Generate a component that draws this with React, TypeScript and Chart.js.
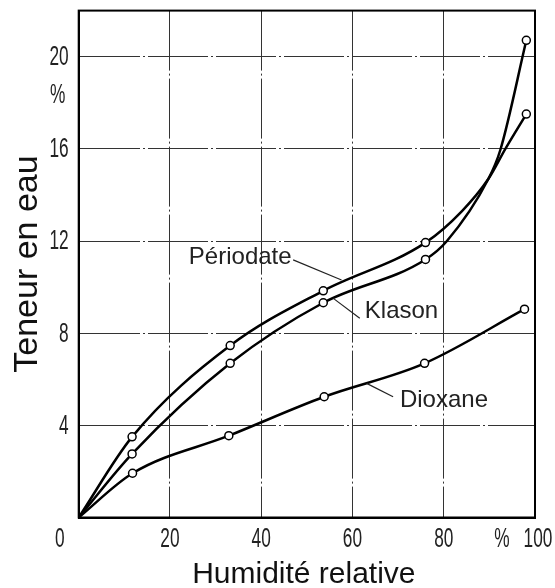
import React, { useEffect, useRef } from 'react';
import { Chart, registerables } from 'chart.js';

Chart.register(...registerables);

// Axis ticks
const xTickValues = [0, 20, 40, 60, 80, 100];
const yTickValues = [4, 8, 12, 16, 20];
const xMax = 100;
const yMax = 22;

// Series (x = relative humidity %, y = water content %)
// marked = true where the original plot shows a circle marker
const periodateX = [0, 11.7, 33.2, 53.6, 76.0, 84.0, 89.8, 93.5, 98.1];
const periodateY = [0, 3.5, 7.46, 9.84, 11.93, 13.3, 14.7, 16.0, 17.51];
const periodateMarked = [false, true, true, true, true, false, false, false, true];

const klasonX = [0, 11.7, 33.2, 53.6, 76.0, 80.7, 89.8, 92.4, 98.1];
const klasonY = [0, 2.76, 6.69, 9.32, 11.2, 12.0, 14.7, 15.95, 20.71];
const klasonMarked = [false, true, true, true, true, false, false, false, true];

const dioxaneX = [0, 11.8, 32.9, 53.8, 75.8, 97.7];
const dioxaneY = [0, 1.92, 3.55, 5.24, 6.69, 9.04];
const dioxaneMarked = [false, true, true, true, true, true];

// Curve labels (data coordinates): text anchor, leader start, leader end
const labelTexts = ['Périodate', 'Klason', 'Dioxane'];
const labelAnchorX = [35.4, 62.7, 70.4];
const labelAnchorY = [11.3, 8.93, 5.07];
const labelAlign: CanvasTextAlign[] = ['center', 'left', 'left'];
const leaderFromX = [47.0, 61.6, 68.9];
const leaderFromY = [11.18, 8.65, 5.24];
const leaderToX = [57.6, 55.8, 63.1];
const leaderToY = [10.31, 9.51, 5.82];

const xTitle = 'Humidité relative';
const yTitle = 'Teneur en eau';

function makeData(xs: number[], ys: number[]) {
  return xs.map((x, i) => ({ x, y: ys[i] }));
}

function radii(marked: boolean[]) {
  return marked.map((m) => (m ? 4 : 0));
}

function drawNarrow(ctx: CanvasRenderingContext2D, text: string, x: number, y: number, align: 'left' | 'right' | 'center', sx: number) {
  ctx.save();
  ctx.translate(x, y);
  ctx.scale(sx, 1);
  ctx.textAlign = align;
  ctx.textBaseline = 'middle';
  ctx.fillText(text, 0, 0);
  ctx.restore();
}

const decorPlugin = {
  id: 'decor',
  afterDraw(chart: any) {
    const { ctx, chartArea, scales } = chart;
    const xs = scales.x;
    const ys = scales.y;
    ctx.save();
    // frame
    ctx.strokeStyle = '#000';
    ctx.lineWidth = 2;
    ctx.strokeRect(chartArea.left, chartArea.top, chartArea.right - chartArea.left, chartArea.bottom - chartArea.top);

    // tick labels
    ctx.fillStyle = '#222';
    ctx.font = '27px "Liberation Sans", Arial, sans-serif';
    const sx = 0.64;
    yTickValues.forEach((v) => {
      drawNarrow(ctx, String(v), chartArea.left - 10, ys.getPixelForValue(v) + 1, 'right', sx);
    });
    drawNarrow(ctx, '%', chartArea.left - 21, ys.getPixelForValue(18.3), 'center', sx);
    const xLabelY = chartArea.bottom + 22.5;
    xTickValues.forEach((v) => {
      let px = xs.getPixelForValue(v);
      if (v === 0) px -= 19;
      if (v === xMax) px += 3;
      drawNarrow(ctx, String(v), px, xLabelY, 'center', sx);
    });
    drawNarrow(ctx, '%', xs.getPixelForValue(xMax) - 33, xLabelY, 'center', sx);

    // axis titles
    ctx.fillStyle = '#111';
    ctx.font = '30px "Liberation Sans", Arial, sans-serif';
    ctx.textAlign = 'center';
    ctx.textBaseline = 'alphabetic';
    ctx.fillText(xTitle, (chartArea.left + chartArea.right) / 2 - 3, chart.height - 5);
    ctx.save();
    ctx.font = '34px "Liberation Sans", Arial, sans-serif';
    ctx.translate(37, (chartArea.top + chartArea.bottom) / 2 + 0);
    ctx.rotate(-Math.PI / 2);
    ctx.textAlign = 'center';
    ctx.textBaseline = 'alphabetic';
    ctx.fillText(yTitle, 0, 0);
    ctx.restore();

    // curve labels and leader lines
    ctx.font = '24px "Liberation Sans", Arial, sans-serif';
    ctx.fillStyle = '#222';
    ctx.strokeStyle = '#222';
    ctx.lineWidth = 1.2;
    labelTexts.forEach((t, i) => {
      ctx.textAlign = labelAlign[i];
      ctx.textBaseline = 'middle';
      ctx.fillText(t, xs.getPixelForValue(labelAnchorX[i]), ys.getPixelForValue(labelAnchorY[i]));
      ctx.beginPath();
      ctx.moveTo(xs.getPixelForValue(leaderFromX[i]), ys.getPixelForValue(leaderFromY[i]));
      ctx.lineTo(xs.getPixelForValue(leaderToX[i]), ys.getPixelForValue(leaderToY[i]));
      ctx.stroke();
    });
    ctx.restore();
  },
};

export default function App() {
  const canvasRef = useRef<HTMLCanvasElement | null>(null);

  useEffect(() => {
    if (!canvasRef.current) return;
    const common = {
      borderColor: '#000',
      borderWidth: 2.5,
      pointBackgroundColor: '#fff',
      pointBorderColor: '#000',
      pointBorderWidth: 1.5,
      fill: false,
      cubicInterpolationMode: 'monotone' as const,
    };
    const chart = new Chart(canvasRef.current, {
      type: 'line',
      data: {
        datasets: [
          { label: 'Périodate', data: makeData(periodateX, periodateY), pointRadius: radii(periodateMarked), ...common },
          { label: 'Klason', data: makeData(klasonX, klasonY), pointRadius: radii(klasonMarked), ...common },
          { label: 'Dioxane', data: makeData(dioxaneX, dioxaneY), pointRadius: radii(dioxaneMarked), ...common },
        ],
      },
      options: {
        animation: false,
        responsive: true,
        maintainAspectRatio: false,
        layout: { padding: { left: 78.7, right: 20, top: 10.6, bottom: 70.5 } },
        plugins: { legend: { display: false }, tooltip: { enabled: false } },
        scales: {
          x: {
            type: 'linear',
            min: 0,
            max: xMax,
            ticks: { display: false, stepSize: 20 },
            grid: { color: '#333', lineWidth: 1, drawTicks: false },
            border: { display: true, color: '#000', width: 2, dash: [60, 3, 2, 3] },
          },
          y: {
            type: 'linear',
            min: 0,
            max: yMax,
            ticks: { display: false, stepSize: 4 },
            grid: { color: '#333', lineWidth: 1, drawTicks: false },
            border: { display: true, color: '#000', width: 2, dash: [60, 3, 2, 3] },
          },
        },
      },
      plugins: [decorPlugin],
    });
    return () => chart.destroy();
  }, []);

  return (
    <div style={{ position: 'fixed', left: 0, top: 0, width: 555, height: 588, background: '#fff' }}>
      <canvas ref={canvasRef} />
    </div>
  );
}
